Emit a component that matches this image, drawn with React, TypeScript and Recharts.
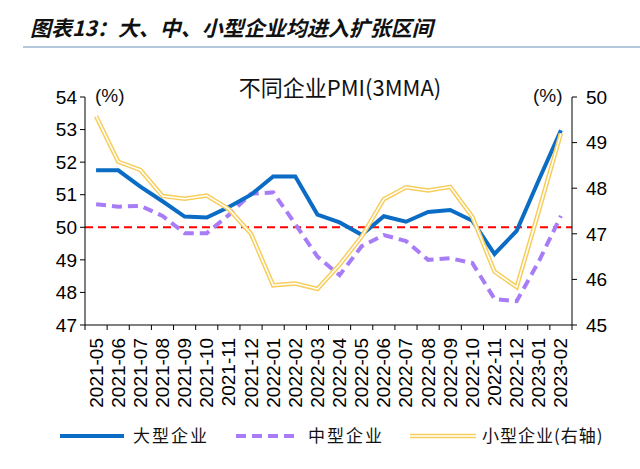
import React from "react";
import { LineChart, Line, XAxis, YAxis, ReferenceLine } from "recharts";

const months = [
  "2021-05", "2021-06", "2021-07", "2021-08", "2021-09", "2021-10", "2021-11", "2021-12",
  "2022-01", "2022-02", "2022-03", "2022-04", "2022-05", "2022-06", "2022-07", "2022-08",
  "2022-09", "2022-10", "2022-11", "2022-12", "2023-01", "2023-02",
];
const large = [
  51.75, 51.75, 51.25, 50.8, 50.33, 50.3, 50.62, 51.0,
  51.56, 51.56, 50.39, 50.15, 49.77, 50.34, 50.17, 50.47,
  50.53, 50.2, 49.18, 49.89, 51.45, 52.98,
];
const medium = [
  50.71, 50.63, 50.66, 50.35, 49.82, 49.82, 50.38, 51.03,
  51.07, 50.1, 49.1, 48.53, 49.42, 49.76, 49.58, 49.0,
  49.05, 48.9, 47.8, 47.73, 48.95, 50.35,
];
const small = [
  49.58, 48.58, 48.4, 47.83, 47.77, 47.84, 47.54, 47.0,
  45.87, 45.91, 45.79, 46.32, 46.94, 47.76, 48.02, 47.95,
  48.03, 47.37, 46.17, 45.83, 47.5, 49.2,
];
const leftTicks = [47, 48, 49, 50, 51, 52, 53, 54];
const rightTicks = [45, 46, 47, 48, 49, 50];

const seriesNames = ["大型企业", "中型企业", "小型企业(右轴)"];
const mainTitle = "图表13：大、中、小型企业均进入扩张区间";
const chartTitle = "不同企业PMI(3MMA)";

const data = months.map((m, i) => ({ month: m, large: large[i], medium: medium[i], small: small[i] }));

const W = 640;
const H = 469;
const LEFT_W = 85;
const RIGHT_W = 68;
const TOP = 97;
const XAXIS_H = 144;
const plotW = W - LEFT_W - RIGHT_W;
const half = plotW / months.length / 2;

const BLUE = "#0A6CC4";
const PURPLE = "#A87CF6";
const YELLOW = "#F7CD5C";
const NUMFONT = "'Liberation Sans', Arial, sans-serif";
const CJKFONT = "'Noto Sans CJK SC', 'Noto Sans', sans-serif";

const XTick = (props: any) => {
  const { x, y, payload } = props;
  const isLast = payload.value === months[months.length - 1];
  return (
    <g>
      <line x1={x - half} x2={x - half} y1={y} y2={y + 5} stroke="#000" strokeWidth={1} />
      {isLast && <line x1={x + half} x2={x + half} y1={y} y2={y + 5} stroke="#000" strokeWidth={1} />}
      <text
        transform={`translate(${x},${y + 13}) rotate(-90)`}
        textAnchor="end"
        dominantBaseline="central"
        fontSize={19}
        fontFamily={NUMFONT}
        fill="#000"
      >
        {payload.value}
      </text>
    </g>
  );
};

export default function App() {
  return (
    <div style={{ position: "absolute", left: 0, top: 0, width: W, height: H, background: "#fff" }}>
      <LineChart
        width={W}
        height={H}
        data={data}
        margin={{ top: TOP, right: 0, bottom: 0, left: 0 }}
      >
        <XAxis
          dataKey="month"
          height={XAXIS_H}
          interval={0}
          padding={{ left: half, right: half }}
          tickSize={0}
          tickMargin={0}
          tickLine={false}
          tick={<XTick />}
          axisLine={{ stroke: "#000", strokeWidth: 1 }}
        />
        <YAxis
          yAxisId="left"
          width={LEFT_W}
          domain={[47, 54]}
          ticks={leftTicks}
          interval={0}
          tickSize={5}
          tickMargin={3}
          tick={{ fontSize: 19, fontFamily: NUMFONT, fill: "#000" }}
          axisLine={{ stroke: "#000" }}
          tickLine={{ stroke: "#000" }}
        />
        <YAxis
          yAxisId="right"
          orientation="right"
          width={RIGHT_W}
          domain={[45, 50]}
          ticks={rightTicks}
          interval={0}
          tickSize={5}
          tickMargin={9}
          tick={{ fontSize: 19, fontFamily: NUMFONT, fill: "#000" }}
          axisLine={{ stroke: "#000" }}
          tickLine={{ stroke: "#000" }}
        />
        <ReferenceLine yAxisId="left" y={50} stroke="#FF0000" strokeWidth={2} strokeDasharray="8 5" />
        <Line
          yAxisId="left"
          dataKey="medium"
          stroke={PURPLE}
          strokeWidth={4}
          strokeDasharray="10 6"
          dot={false}
          isAnimationActive={false}
        />
        <Line
          yAxisId="left"
          dataKey="large"
          stroke={BLUE}
          strokeWidth={4}
          dot={false}
          isAnimationActive={false}
        />
        <Line
          yAxisId="right"
          dataKey="small"
          stroke={YELLOW}
          strokeWidth={4.5}
          dot={false}
          isAnimationActive={false}
        />
        <Line
          yAxisId="right"
          dataKey="small"
          stroke="#FFFFFF"
          strokeWidth={1.5}
          dot={false}
          isAnimationActive={false}
          legendType="none"
        />
      </LineChart>
      <svg
        width={W}
        height={H}
        style={{ position: "absolute", left: 0, top: 0, pointerEvents: "none" }}
      >
        <text
          x={30}
          y={36}
          fontSize={21}
          fontWeight="bold"
          fontStyle="italic"
          fontFamily={CJKFONT}
          fill="#111"
        >
          {mainTitle}
        </text>
        <line x1={23} x2={640} y1={47} y2={47} stroke="#9DB4CF" strokeWidth={1.5} />
        <text x={340} y={96} textAnchor="middle" fontSize={22} fontFamily={CJKFONT} fill="#111">
          {chartTitle}
        </text>
        <text x={95} y={102} fontSize={19} fontFamily={NUMFONT} fill="#111">(%)</text>
        <text x={533} y={102} fontSize={19} fontFamily={NUMFONT} fill="#111">(%)</text>
        <g>
          <line x1={60} x2={124} y1={436} y2={436} stroke={BLUE} strokeWidth={4} />
          <text x={133} y={442} fontSize={17} letterSpacing={2} fontFamily={CJKFONT} fill="#111">{seriesNames[0]}</text>
          <line x1={236} x2={300} y1={436} y2={436} stroke={PURPLE} strokeWidth={4} strokeDasharray="10 6" />
          <text x={308} y={442} fontSize={17} letterSpacing={2} fontFamily={CJKFONT} fill="#111">{seriesNames[1]}</text>
          <line x1={410} x2={476} y1={436} y2={436} stroke={YELLOW} strokeWidth={4.5} />
          <line x1={410} x2={476} y1={436} y2={436} stroke="#FFFFFF" strokeWidth={1.5} />
          <text x={482} y={442} fontSize={17} letterSpacing={1} fontFamily={CJKFONT} fill="#111">{seriesNames[2]}</text>
        </g>
      </svg>
    </div>
  );
}
